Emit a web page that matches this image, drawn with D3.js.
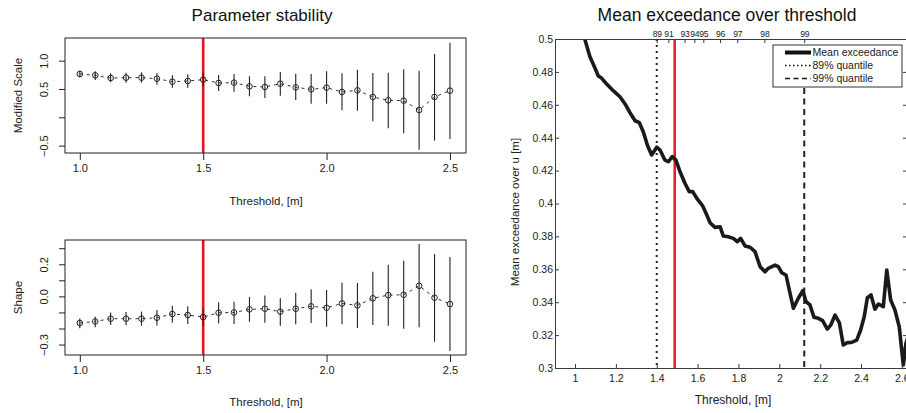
<!DOCTYPE html>
<html>
<head>
<meta charset="utf-8">
<script src="https://cdn.jsdelivr.net/npm/d3@7"></script>
<style>
  html, body { margin: 0; padding: 0; background: #fff; }
  svg { display: block; font-family: "Liberation Sans", Arial, Helvetica, sans-serif; }
</style>
</head>
<body>
<svg id="chart" width="906" height="413"></svg>
<script>
// Threshold grid for the parameter-stability fits
const thresholds = [1.0, 1.0625, 1.125, 1.1875, 1.25, 1.3125, 1.375, 1.4375, 1.5, 1.5625,
  1.625, 1.6875, 1.75, 1.8125, 1.875, 1.9375, 2.0, 2.0625, 2.125, 2.1875,
  2.25, 2.3125, 2.375, 2.4375, 2.5];

// Modified scale estimate with confidence bounds
const scaleMid = [0.765, 0.741, 0.694, 0.700, 0.700, 0.682, 0.629, 0.641, 0.665, 0.606,
  0.612, 0.547, 0.535, 0.594, 0.529, 0.494, 0.524, 0.447, 0.476, 0.359,
  0.300, 0.294, 0.129, 0.359, 0.471];
const scaleLo = [0.706, 0.659, 0.618, 0.612, 0.612, 0.576, 0.524, 0.524, 0.541, 0.465,
  0.453, 0.371, 0.341, 0.382, 0.306, 0.241, 0.241, 0.124, 0.118, -0.071,
  -0.194, -0.282, -0.571, -0.412, -0.382];
const scaleHi = [0.824, 0.812, 0.776, 0.788, 0.794, 0.776, 0.741, 0.759, 0.788, 0.747,
  0.765, 0.724, 0.724, 0.800, 0.771, 0.765, 0.812, 0.776, 0.841, 0.782,
  0.788, 0.847, 0.824, 1.118, 1.318];

// Shape estimate with confidence bounds
const shapeMid = [-0.166, -0.156, -0.139, -0.139, -0.139, -0.133, -0.110, -0.116, -0.129, -0.102,
  -0.100, -0.081, -0.077, -0.095, -0.077, -0.062, -0.071, -0.044, -0.056, -0.012,
  0.008, 0.010, 0.066, -0.008, -0.048];
const shapeLo = [-0.199, -0.193, -0.178, -0.180, -0.183, -0.181, -0.164, -0.172, -0.185, -0.168,
  -0.172, -0.158, -0.164, -0.183, -0.174, -0.166, -0.189, -0.174, -0.197, -0.178,
  -0.183, -0.201, -0.193, -0.282, -0.340];
const shapeHi = [-0.137, -0.127, -0.100, -0.098, -0.095, -0.085, -0.058, -0.062, -0.075, -0.037,
  -0.033, -0.004, 0.006, -0.012, 0.023, 0.044, 0.039, 0.087, 0.083, 0.154,
  0.197, 0.222, 0.326, 0.263, 0.245];

const chosenThreshold = 1.5;
const stabilityTicks = [1.0, 1.5, 2.0, 2.5];

// Mean residual life curve
const meThreshold = [1.030, 1.049, 1.073, 1.098, 1.114, 1.131, 1.155, 1.187, 1.220, 1.245,
  1.269, 1.294, 1.315, 1.334, 1.354, 1.375, 1.400, 1.416, 1.440, 1.457,
  1.476, 1.494, 1.514, 1.538, 1.559, 1.576, 1.599, 1.625, 1.645, 1.661,
  1.685, 1.710, 1.726, 1.750, 1.775, 1.794, 1.811, 1.832, 1.857, 1.881,
  1.906, 1.930, 1.946, 1.979, 1.995, 2.012, 2.033, 2.049, 2.069, 2.093,
  2.115, 2.131, 2.150, 2.170, 2.191, 2.212, 2.235, 2.252, 2.273, 2.294,
  2.313, 2.333, 2.354, 2.379, 2.398, 2.415, 2.431, 2.449, 2.468, 2.485,
  2.509, 2.526, 2.545, 2.566, 2.587, 2.607, 2.620, 2.640];
const meValue = [0.507, 0.4994, 0.4892, 0.4822, 0.4775, 0.4761, 0.4726, 0.4686, 0.4649, 0.4605,
  0.4552, 0.4503, 0.4491, 0.4436, 0.4356, 0.4295, 0.4342, 0.4325, 0.4264, 0.4254,
  0.4285, 0.4264, 0.4193, 0.4123, 0.4072, 0.4072, 0.4026, 0.3985, 0.3930, 0.3883,
  0.3855, 0.3859, 0.3802, 0.3798, 0.3788, 0.3768, 0.3788, 0.3742, 0.3734, 0.3707,
  0.3616, 0.3585, 0.3606, 0.3626, 0.3616, 0.3579, 0.3565, 0.3474, 0.3363, 0.3424,
  0.3470, 0.3403, 0.3383, 0.3308, 0.3302, 0.3288, 0.3237, 0.3261, 0.3322, 0.3275,
  0.3140, 0.3154, 0.3156, 0.3170, 0.3231, 0.3308, 0.3427, 0.3444, 0.3357, 0.3389,
  0.3373, 0.3596, 0.3413, 0.3353, 0.3251, 0.3018, 0.3150, 0.3230];

// Quantile levels shown on the top axis and their thresholds
const quantileLabels = ["89", "91", "93", "94", "95", "96", "97", "98", "99"];
const quantileThresholds = [1.400, 1.457, 1.536, 1.584, 1.628, 1.710, 1.794, 1.927, 2.122];
const q89 = 1.400, q99 = 2.122, meChosen = 1.488;

const meXTicks = [1, 1.2, 1.4, 1.6, 1.8, 2, 2.2, 2.4, 2.6];
const meYTicks = [0.3, 0.32, 0.34, 0.36, 0.38, 0.4, 0.42, 0.44, 0.46, 0.48, 0.5];
const legendLabels = ["Mean exceedance", "89% quantile", "99% quantile"];

const svg = d3.select("#chart");

// ---------- Left: parameter stability (two stacked panels) ----------
function stabilityPanel(cfg) {
  const g = svg.append("g");
  const x = d3.scaleLinear().domain([0.94, 2.565]).range([65, 466]);
  const y = d3.scaleLinear().domain(cfg.domain).range([cfg.bottom, cfg.top]);

  // red threshold marker
  g.append("line")
    .attr("x1", x(chosenThreshold)).attr("x2", x(chosenThreshold))
    .attr("y1", cfg.top).attr("y2", cfg.bottom)
    .attr("stroke", "#e8161b").attr("stroke-width", 2.6);

  // dashed connecting line
  g.append("path")
    .datum(thresholds.map((t, i) => [t, cfg.mid[i]]))
    .attr("fill", "none").attr("stroke", "#333").attr("stroke-width", 1)
    .attr("stroke-dasharray", "3,4")
    .attr("d", d3.line().x(d => x(d[0])).y(d => y(d[1])));

  // confidence bars
  g.selectAll(".bar").data(thresholds).join("line")
    .attr("x1", d => x(d)).attr("x2", d => x(d))
    .attr("y1", (d, i) => y(cfg.lo[i])).attr("y2", (d, i) => y(cfg.hi[i]))
    .attr("stroke", "#222").attr("stroke-width", 1.1);

  // open circles
  g.selectAll(".pt").data(thresholds).join("circle")
    .attr("cx", d => x(d)).attr("cy", (d, i) => y(cfg.mid[i]))
    .attr("r", 2.8).attr("fill", "#fff").attr("fill-opacity", 0)
    .attr("stroke", "#222").attr("stroke-width", 1);

  // frame
  g.append("rect").attr("x", 65).attr("y", cfg.top)
    .attr("width", 401).attr("height", cfg.bottom - cfg.top)
    .attr("fill", "none").attr("stroke", "#222").attr("stroke-width", 1);

  // x axis
  const xa = g.append("g").attr("transform", `translate(0,${cfg.bottom})`)
    .call(d3.axisBottom(x).tickValues(stabilityTicks).tickFormat(d3.format(".1f")).tickSize(7).tickSizeOuter(0));
  xa.select(".domain").remove();
  xa.selectAll("text").attr("font-size", 11).attr("fill", "#222").attr("dy", "0.9em").attr("y", 9);
  xa.selectAll("line").attr("stroke", "#222");

  // y axis with rotated labels
  const ya = g.append("g").attr("transform", "translate(65,0)")
    .call(d3.axisLeft(y).tickValues(cfg.ticks).tickSize(6).tickSizeOuter(0)
      .tickFormat(d => cfg.labels.includes(d) ? d3.format(".1f")(d) : ""));
  ya.select(".domain").remove();
  ya.selectAll("line").attr("stroke", "#222");
  ya.selectAll("text")
    .attr("font-size", 11).attr("fill", "#222")
    .attr("x", 0).attr("dy", 0)
    .attr("text-anchor", "middle")
    .attr("transform", "translate(-17,0) rotate(-90)");

  g.append("text").attr("x", 266).attr("y", cfg.xlabelY)
    .attr("text-anchor", "middle").attr("font-size", 11.5).attr("fill", "#222")
    .text("Threshold, [m]");
  g.append("text")
    .attr("transform", `translate(22,${(cfg.top + cfg.bottom) / 2}) rotate(-90)`)
    .attr("text-anchor", "middle").attr("font-size", 11.5).attr("fill", "#222")
    .text(cfg.ylabel);
}

svg.append("text").attr("x", 262).attr("y", 20.5)
  .attr("text-anchor", "middle").attr("font-size", 17).attr("fill", "#111")
  .text("Parameter stability");

stabilityPanel({
  top: 38, bottom: 153, domain: [-0.63, 1.40],
  mid: scaleMid, lo: scaleLo, hi: scaleHi,
  ticks: [-0.5, 0, 0.5, 1.0], labels: [-0.5, 0.5, 1.0],
  ylabel: "Modified Scale", xlabelY: 205
});
stabilityPanel({
  top: 240, bottom: 355, domain: [-0.365, 0.351],
  mid: shapeMid, lo: shapeLo, hi: shapeHi,
  ticks: [-0.3, -0.2, -0.1, 0, 0.1, 0.2, 0.3], labels: [-0.3, 0, 0.2],
  ylabel: "Shape", xlabelY: 406
});

// ---------- Right: mean exceedance over threshold ----------
const L = 555, R = 907, T = 39, B = 368;
const mx = d3.scaleLinear().domain([0.902, 2.625]).range([L, R]);
const my = d3.scaleLinear().domain([0.3, 0.5]).range([B, T]);
const me = svg.append("g");
const axisColor = "#3a3a3a";

me.append("defs").append("clipPath").attr("id", "meclip")
  .append("rect").attr("x", L).attr("y", T).attr("width", R - L).attr("height", B - T);

// reference lines
me.append("line").attr("x1", mx(q89)).attr("x2", mx(q89)).attr("y1", T).attr("y2", B)
  .attr("stroke", "#222").attr("stroke-width", 2).attr("stroke-dasharray", "2,4");
me.append("line").attr("x1", mx(q99)).attr("x2", mx(q99)).attr("y1", T + 7).attr("y2", B)
  .attr("stroke", "#222").attr("stroke-width", 2).attr("stroke-dasharray", "6,4.5");
me.append("line").attr("x1", mx(meChosen)).attr("x2", mx(meChosen)).attr("y1", T).attr("y2", B)
  .attr("stroke", "#ee1c24").attr("stroke-width", 2.6);

// curve
me.append("path")
  .datum(meThreshold.map((t, i) => [t, meValue[i]]))
  .attr("clip-path", "url(#meclip)")
  .attr("fill", "none").attr("stroke", "#1a1a1a").attr("stroke-width", 3.6)
  .attr("stroke-linejoin", "round")
  .attr("d", d3.line().x(d => mx(d[0])).y(d => my(d[1])));

// axes (inward ticks)
const bx = me.append("g").attr("transform", `translate(0,${B})`)
  .call(d3.axisBottom(mx).tickValues(meXTicks).tickFormat(d3.format("~g")).tickSizeInner(-4).tickSizeOuter(0));
bx.select(".domain").attr("stroke", axisColor);
bx.selectAll("line").attr("stroke", axisColor);
bx.selectAll("text").attr("y", 7).attr("dy", "0.71em").attr("font-size", 10.5).attr("fill", "#222");

const ly = me.append("g").attr("transform", `translate(${L},0)`)
  .call(d3.axisLeft(my).tickValues(meYTicks).tickFormat(d3.format("~g")).tickSizeInner(-4).tickSizeOuter(0));
ly.select(".domain").attr("stroke", axisColor);
ly.selectAll("line").attr("stroke", axisColor);
ly.selectAll("text").attr("x", -2).attr("font-size", 10.5).attr("fill", "#222");

const ry = me.append("g").attr("transform", `translate(${R},0)`)
  .call(d3.axisRight(my).tickValues(meYTicks).tickFormat("").tickSizeInner(-4).tickSizeOuter(0));
ry.selectAll("line").attr("stroke", axisColor);
ry.select(".domain").attr("stroke", axisColor);

// top axis: quantile levels
const tx = me.append("g").attr("transform", `translate(0,${T})`)
  .call(d3.axisTop(mx).tickValues(quantileThresholds)
    .tickFormat((d, i) => quantileLabels[i]).tickSizeInner(-4).tickSizeOuter(0));
tx.select(".domain").attr("stroke", axisColor);
tx.selectAll("line").attr("stroke", axisColor);
tx.selectAll("text").attr("y", -2).attr("dy", 0).attr("font-size", 8.6)
  .attr("letter-spacing", -0.2).attr("fill", "#222");

// legend
const lg = me.append("g");
lg.append("rect").attr("x", 773).attr("y", 45).attr("width", 129).attr("height", 42)
  .attr("fill", "#fff").attr("stroke", "#333").attr("stroke-width", 1);
const legendStyles = [
  { w: 4, dash: null },
  { w: 1.6, dash: "1.6,2.4" },
  { w: 1.6, dash: "5,3.5" }
];
legendLabels.forEach((lab, i) => {
  const yy = 52.5 + i * 13;
  lg.append("line").attr("x1", 785).attr("x2", 811).attr("y1", yy).attr("y2", yy)
    .attr("stroke", "#111").attr("stroke-width", legendStyles[i].w)
    .attr("stroke-dasharray", legendStyles[i].dash);
  lg.append("text").attr("x", 812.5).attr("y", yy).attr("dy", "0.35em")
    .attr("font-size", 10.5).attr("fill", "#222").text(lab);
});

// titles and labels
svg.append("text").attr("x", 727).attr("y", 21)
  .attr("text-anchor", "middle").attr("font-size", 17.5).attr("fill", "#111")
  .text("Mean exceedance over threshold");
svg.append("text").attr("x", 733).attr("y", 404)
  .attr("text-anchor", "middle").attr("font-size", 12).attr("fill", "#222")
  .text("Threshold, [m]");
svg.append("text")
  .attr("transform", "translate(519,212) rotate(-90)")
  .attr("text-anchor", "middle").attr("font-size", 11.5).attr("fill", "#222")
  .text("Mean exceedance over u [m]");
</script>
</body>
</html>
